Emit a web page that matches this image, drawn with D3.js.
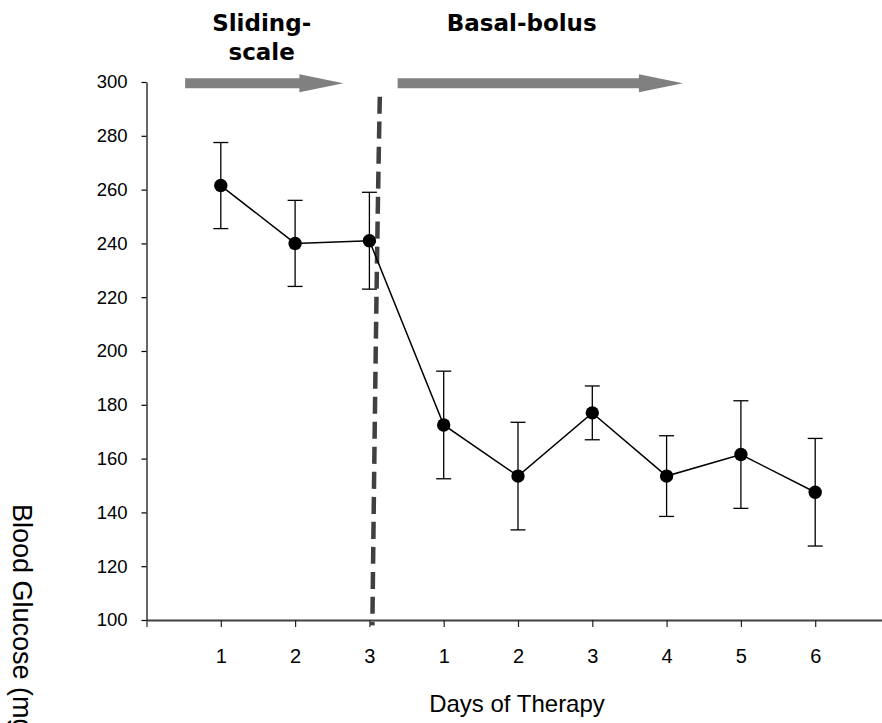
<!DOCTYPE html>
<html>
<head>
<meta charset="utf-8">
<script src="https://cdn.jsdelivr.net/npm/d3@7"></script>
<style>
  html, body { margin: 0; padding: 0; background: #fff; }
  svg { display: block; }
</style>
</head>
<body>
<svg id="chart" width="882" height="723"></svg>
<script>
// ---- data ----
const dayLabels = ["1", "2", "3", "1", "2", "3", "4", "5", "6"];
const glucoseMean = [261.5, 240, 241, 172.5, 153.5, 177, 153.5, 161.5, 147.5];
const glucoseErr = [16, 16, 18, 20, 20, 10, 15, 20, 20];
const yTicks = [100, 120, 140, 160, 180, 200, 220, 240, 260, 280, 300];
const phaseNames = [["Sliding-", "scale"], ["Basal-bolus"]];
const phaseStart = [0.52, 3.38];
const phaseEnd = [2.65, 7.22];
const phaseLabelPos = [1.55, 5.05];
const arrowLevel = 299.5;
const dividerPath = [[3.14, 294.5], [3.11, 250], [3.07, 170], [3.04, 98]];

// ---- layout ----
const svg = d3.select("#chart");
const W = 882, H = 723;
const x = d3.scaleLinear().domain([0, 10]).range([146.5, 889.5]);
const y = d3.scaleLinear().domain([100, 300]).range([620, 82]);
const pos = glucoseMean.map((d, i) => i + 1);

svg.append("rect").attr("width", W).attr("height", H).attr("fill", "#fff");

// y axis
const yAxis = svg.append("g")
  .attr("transform", `translate(${x(0)},0)`)
  .call(d3.axisLeft(y).tickValues(yTicks).tickSize(5).tickPadding(14).tickSizeOuter(0));
yAxis.select(".domain").attr("stroke", "#000").attr("stroke-width", 1.2);
yAxis.selectAll(".tick line").attr("stroke", "#000").attr("stroke-width", 1.2);
yAxis.selectAll(".tick text")
  .attr("font-family", "'Liberation Sans', Arial, sans-serif")
  .attr("font-size", 18.5).attr("fill", "#000");

// x axis
const xAxis = svg.append("g")
  .attr("transform", `translate(0,${y(100)})`)
  .call(d3.axisBottom(x)
    .tickValues(d3.range(0, dayLabels.length + 1))
    .tickFormat(d => d === 0 ? "" : dayLabels[d - 1])
    .tickSize(7).tickPadding(22).tickSizeOuter(0));
xAxis.select(".domain").attr("stroke", "#404040").attr("stroke-width", 2.2);
xAxis.selectAll(".tick line").attr("stroke", "#222").attr("stroke-width", 1.2);
xAxis.selectAll(".tick text")
  .attr("font-family", "'Liberation Sans', Arial, sans-serif")
  .attr("font-size", 20).attr("fill", "#000");

// axis titles
svg.append("text")
  .attr("x", 517).attr("y", 712)
  .attr("text-anchor", "middle")
  .attr("font-family", "'Liberation Sans', Arial, sans-serif")
  .attr("font-size", 24).attr("fill", "#000")
  .text("Days of Therapy");

svg.append("text")
  .attr("transform", "translate(13,504) rotate(90)")
  .attr("font-family", "'Liberation Sans', Arial, sans-serif")
  .attr("font-size", 27).attr("fill", "#000")
  .text("Blood Glucose (mg/dL)");

// phase arrows
const shaftHalf = 5, headHalf = 9, headLen = 44;
phaseStart.forEach((s, i) => {
  const x0 = x(s), x1 = x(phaseEnd[i]), yc = y(arrowLevel);
  const pts = [
    [x0, yc - shaftHalf], [x1 - headLen, yc - shaftHalf], [x1 - headLen, yc - headHalf],
    [x1, yc], [x1 - headLen, yc + headHalf], [x1 - headLen, yc + shaftHalf], [x0, yc + shaftHalf]
  ];
  svg.append("polygon").attr("points", pts.map(p => p.join(",")).join(" "))
    .attr("fill", "#808080");
});

// phase labels
phaseNames.forEach((lines, i) => {
  const t = svg.append("text")
    .attr("x", x(phaseLabelPos[i])).attr("y", 31)
    .attr("text-anchor", "middle")
    .attr("font-family", "'DejaVu Sans', Verdana, sans-serif")
    .attr("font-weight", "bold")
    .attr("font-size", 23).attr("fill", "#000");
  lines.forEach((ln, j) => {
    t.append("tspan").attr("x", x(phaseLabelPos[i])).attr("dy", j === 0 ? 0 : 29).text(ln);
  });
});

// divider dashed line
svg.append("path")
  .attr("d", d3.line().x(d => x(d[0])).y(d => y(d[1])).curve(d3.curveBasis)(dividerPath))
  .attr("fill", "none")
  .attr("stroke", "#404040").attr("stroke-width", 4.5)
  .attr("stroke-dasharray", "17,8");

// error bars
const capHalf = 7.5;
const eb = svg.append("g").attr("stroke", "#000").attr("stroke-width", 1.3);
glucoseMean.forEach((m, i) => {
  const xc = x(pos[i]), yt = y(m + glucoseErr[i]), yb = y(m - glucoseErr[i]);
  eb.append("line").attr("x1", xc).attr("x2", xc).attr("y1", yt).attr("y2", yb);
  eb.append("line").attr("x1", xc - capHalf).attr("x2", xc + capHalf).attr("y1", yt).attr("y2", yt);
  eb.append("line").attr("x1", xc - capHalf).attr("x2", xc + capHalf).attr("y1", yb).attr("y2", yb);
});

// line
svg.append("path")
  .datum(glucoseMean)
  .attr("d", d3.line().x((d, i) => x(pos[i])).y(d => y(d)))
  .attr("fill", "none").attr("stroke", "#000").attr("stroke-width", 1.5);

// markers
svg.selectAll("circle.pt")
  .data(glucoseMean)
  .join("circle")
  .attr("class", "pt")
  .attr("cx", (d, i) => x(pos[i])).attr("cy", d => y(d))
  .attr("r", 6.7).attr("fill", "#000");
</script>
</body>
</html>
